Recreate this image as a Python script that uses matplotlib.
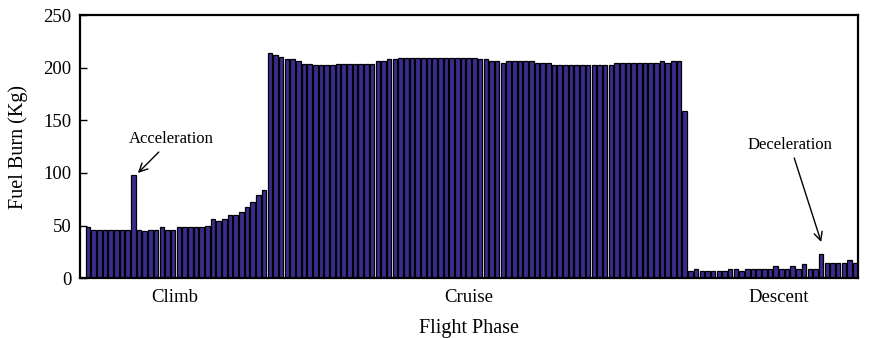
import matplotlib
matplotlib.use("Agg")
import matplotlib.pyplot as plt
import numpy as np

# Fuel burn per flight segment (kg), grouped by phase
climb = [49, 46, 46, 46, 46, 46, 46, 46, 98, 46, 45, 46, 46, 49, 46, 46,
         49, 49, 49, 49, 49, 50, 56, 54, 56, 60, 60, 63, 68, 72, 79, 84]
cruise = [213.7, 212, 209.8, 208, 208, 206.4, 203.9, 203.9, 202.6, 202.6,
          202.6, 202.6, 203.9, 203.9, 203.9, 203.9, 203.9, 203.9, 203.9,
          206.4, 206.4, 208, 208, 209.5, 209.5, 209.5, 209.5, 209.5, 209.5,
          209.5, 209.5, 209.5, 209.5, 209.5, 209.5, 209.5, 209.5, 208, 208,
          206.4, 206.4, 204, 206.4, 206.4, 206.4, 206.4, 206.4, 204, 204,
          204, 203, 203, 203, 203, 203, 203, 203, 203, 203, 203, 203, 204.5,
          204.5, 204.5, 204.5, 204.5, 204.5, 204.5, 204.5, 206.4, 204, 206.4,
          206.4, 159.2]
descent = [7, 8.5, 7, 7, 7, 7, 7, 8.5, 8.5, 7, 8.5, 8.5, 8.5, 8.5, 8.5,
           11.7, 8.5, 8.5, 11.7, 8.5, 13.3, 8.5, 8.5, 22.8, 14.8, 14.8, 14.8,
           14.8, 17.4, 14.8]
phases = ["Climb", "Cruise", "Descent"]
phase_ticks = [16.3, 68.0, 122.5]

values = climb + cruise + descent
x = np.arange(1, len(values) + 1)

plt.rcParams["font.family"] = ["Liberation Serif", "DejaVu Serif"]

fig = plt.figure(figsize=(8.74, 3.38), dpi=100)
ax = fig.add_axes([0.0915, 0.1766, 0.890, 0.7790])

ax.bar(x, values, width=0.8, color="#3a2d90", edgecolor="black", linewidth=0.9)

ax.set_xlim(-0.4, len(values) + 0.45)
ax.set_ylim(0, 250)
ax.set_yticks([0, 50, 100, 150, 200, 250])

ax.set_xticks(phase_ticks)
ax.set_xticklabels(phases)
ax.tick_params(axis="x", length=0, labelsize=13.5, pad=8)
ax.tick_params(axis="y", direction="in", length=5, width=1, labelsize=13.5,
               pad=6, right=False)

for s in ax.spines.values():
    s.set_linewidth(1.6)

ax.set_ylabel("Fuel Burn (Kg)", fontsize=14.5, labelpad=11)
ax.set_xlabel("Flight Phase", fontsize=14.5, labelpad=9)

arrow = dict(arrowstyle="->", lw=1.0, color="black", mutation_scale=15,
             shrinkA=2, shrinkB=0)
ax.annotate("Acceleration", xy=(9.8, 100), xytext=(15.7, 132),
            ha="center", va="center", fontsize=12, arrowprops=arrow)
ax.annotate("Deceleration", xy=(130.0, 34.5), xytext=(124.5, 127),
            ha="center", va="center", fontsize=12, arrowprops=arrow)

fig.savefig("out.png", dpi=100)
